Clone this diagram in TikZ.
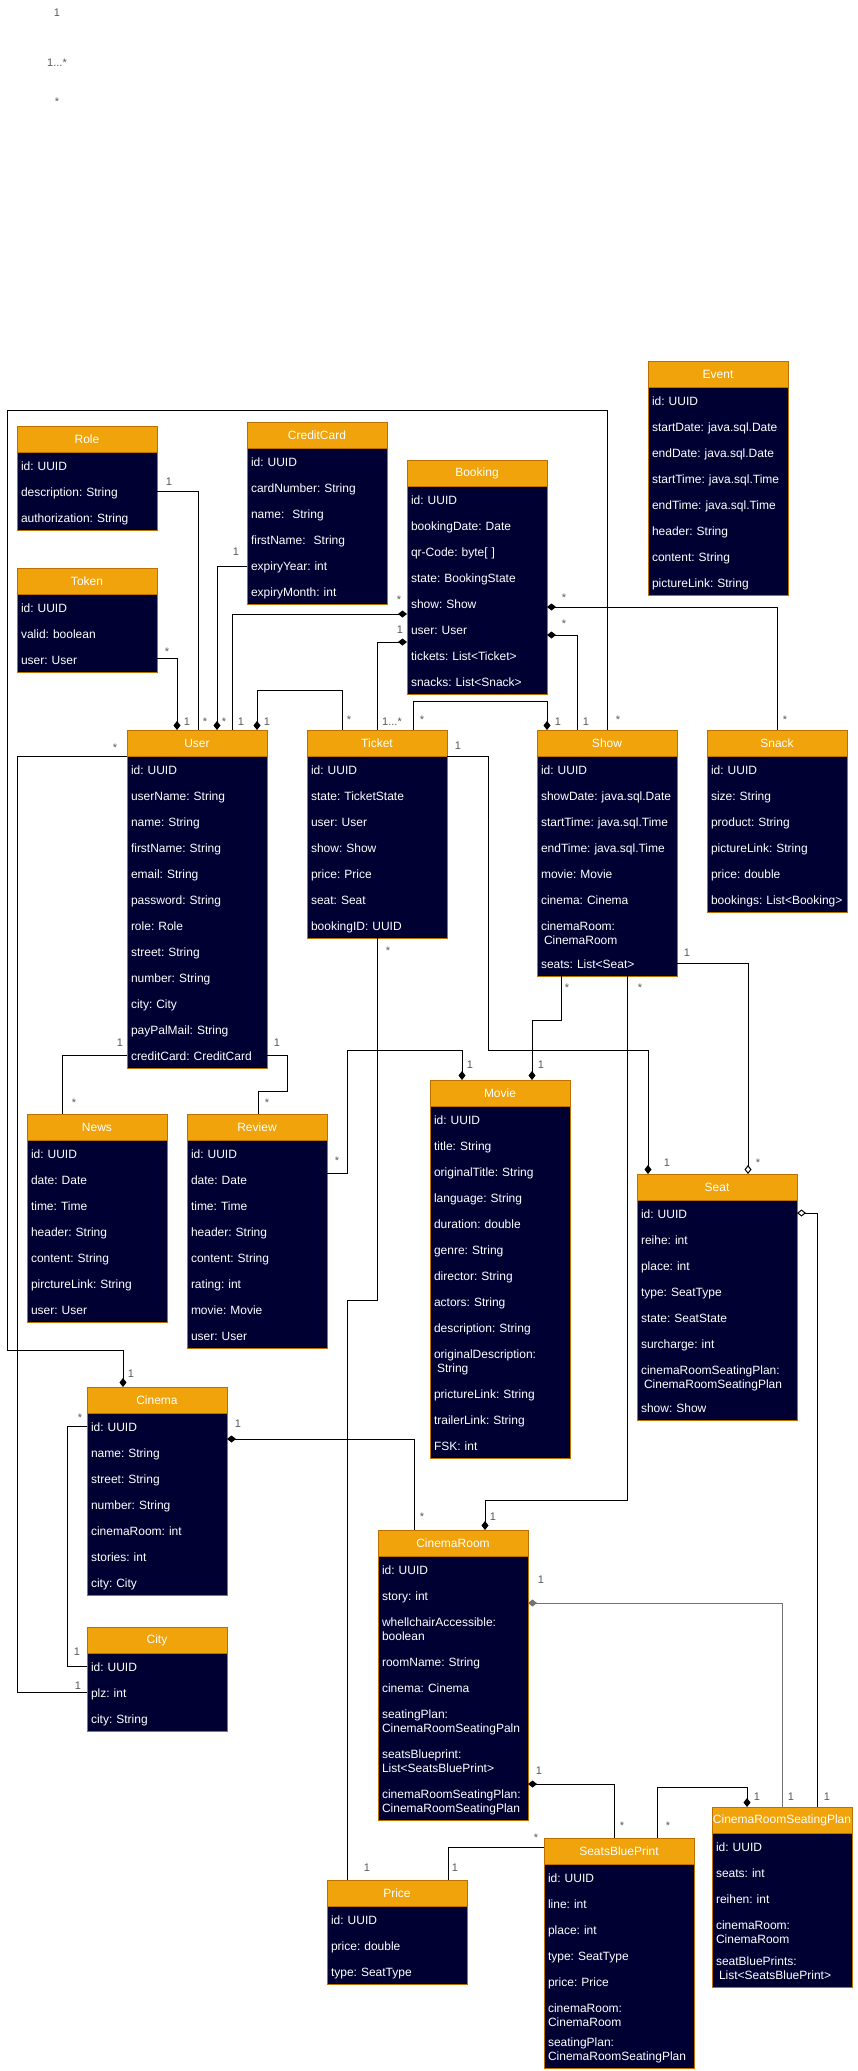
\documentclass[tikz,border=0pt]{standalone}
\usepackage{fontspec}
\setmainfont{Liberation Sans}
\usetikzlibrary{arrows.meta}

\definecolor{headfill}{HTML}{F0A30A}
\definecolor{headline}{HTML}{BD7000}
\definecolor{bodyfill}{HTML}{000033}

\newcommand{\oneton}{1...*}
\newcommand{\umlclass}[6][140]{%
  \pgfmathsetmacro{\bodyw}{#1-8}%
  \node[classhead, minimum width=#1pt] (#2) at (#3,#4) {#5};
  \node[classbody, text width=\bodyw pt] (#2-b) at (#2.south west) {\strut #6\strut};
}

\begin{document}
\begin{tikzpicture}
      [
        x=1pt, y=-1pt,
        classhead/.style={draw=headline, fill=headfill, text=white, anchor=north west,
          minimum height=26pt, inner sep=0pt, outer sep=0pt, font=\fontsize{12}{14}\selectfont},
        classbody/.style={draw=headline, fill=bodyfill, text=white, anchor=north west,
          inner xsep=4pt, inner ysep=0pt, outer sep=0pt, align=left,
          font={\fontsize{12}{26}\selectfont\frenchspacing\hyphenpenalty=10000}},
        mult/.style={text=black!65, font=\fontsize{11}{13}\selectfont, inner sep=0pt},
        link/.style={line width=1pt},
        dia/.tip={Diamond[length=9pt,width=7pt]},
        odia/.tip={Diamond[open,fill=white,length=9pt,width=7pt]}
      ]
      \fill[white] (0,0) rectangle (858,2071);
      \useasboundingbox (0,0) rectangle (858,2071);
      % top row
      \umlclass{role}{17}{426}{Role}{id: UUID\\description: String\\authorization: String}
      \umlclass{creditcard}{247}{422}{CreditCard}{id: UUID\\cardNumber: String\\name:~ String\\firstName:~ String\\expiryYear: int\\expiryMonth: int}
      \umlclass{token}{17}{568}{Token}{id: UUID\\valid: boolean\\user: User}
      \umlclass{booking}{407}{460}{Booking}{id: UUID\\bookingDate: Date\\qr-Code: byte[ ]\\state: BookingState\\show: Show\\user: User\\tickets: List<Ticket>\\snacks: List<Snack>}
      \umlclass{event}{648}{361}{Event}{id: UUID\\startDate: java.sql.Date\\endDate: java.sql.Date\\startTime: java.sql.Time\\endTime: java.sql.Time\\header: String\\content: String\\pictureLink: String}
      % middle row
      \umlclass{user}{127}{730}{User}{id: UUID\\userName: String\\name: String\\firstName: String\\email: String\\password: String\\role: Role\\street: String\\number: String\\city: City\\payPalMail: String\\creditCard: CreditCard}
      \umlclass{ticket}{307}{730}{Ticket}{id: UUID\\state: TicketState\\user: User\\show: Show\\price: Price\\seat: Seat\\bookingID: UUID}
      \umlclass{show}{537}{730}{Show}{id: UUID\\showDate: java.sql.Date\\startTime: java.sql.Time\\endTime: java.sql.Time\\movie: Movie\\cinema: Cinema\\cinemaRoom:\\[-12pt]\hspace*{3pt}CinemaRoom\\[-2pt]seats: List<Seat>}
      \umlclass{snack}{707}{730}{Snack}{id: UUID\\size: String\\product: String\\pictureLink: String\\price: double\\bookings: List<Booking>}
      \umlclass{news}{27}{1114}{News}{id: UUID\\date: Date\\time: Time\\header: String\\content: String\\pirctureLink: String\\user: User}
      \umlclass{review}{187}{1114}{Review}{id: UUID\\date: Date\\time: Time\\header: String\\content: String\\rating: int\\movie: Movie\\user: User}
      \umlclass{movie}{430}{1080}{Movie}{id: UUID\\title: String\\originalTitle: String\\language: String\\duration: double\\genre: String\\director: String\\actors: String\\description: String\\originalDescription:\\[-12pt]\hspace*{3pt}String\\prictureLink: String\\trailerLink: String\\FSK: int}
      \umlclass[160]{seat}{637}{1174}{Seat}{id: UUID\\reihe: int\\place: int\\type: SeatType\\state: SeatState\\surcharge: int\\cinemaRoomSeatingPlan:\\[-12pt]\hspace*{3pt}CinemaRoomSeatingPlan\\[-2pt]show: Show}
      % bottom row
      \umlclass{cinema}{87}{1387}{Cinema}{id: UUID\\name: String\\street: String\\number: String\\cinemaRoom: int\\stories: int\\city: City}
      \umlclass{city}{87}{1627}{City}{id: UUID\\plz: int\\city: String}
      \umlclass[150]{cinemaroom}{378}{1530}{CinemaRoom}{id: UUID\\story: int\\whellchairAccessible:\\[-12pt]boolean\\roomName: String\\cinema: Cinema\\seatingPlan:\\[-12pt]CinemaRoomSeatingPaln\\seatsBlueprint:\\[-12pt]List<SeatsBluePrint>\\cinemaRoomSeatingPlan:\\[-12pt]CinemaRoomSeatingPlan}
      \umlclass[150]{blueprint}{544}{1838}{SeatsBluePrint}{id: UUID\\line: int\\place: int\\type: SeatType\\price: Price\\cinemaRoom:\\[-12pt]CinemaRoom\\[-6pt]seatingPlan:\\[-12pt]CinemaRoomSeatingPlan}
      \umlclass{price}{327}{1880}{Price}{id: UUID\\price: double\\type: SeatType}
      \umlclass{seatingplan}{712}{1807}{CinemaRoomSeatingPlan}{id: UUID\\seats: int\\reihen: int\\cinemaRoom:\\[-12pt]CinemaRoom\\[-4pt]seatBluePrints:\\[-12pt]\hspace*{3pt}List<SeatsBluePrint>}
      % links
      \draw[link] (role-b.east) -| ([xshift=71pt]user.north west);
      \draw[link,-dia] ([yshift=-25pt]token-b.east) -| ([xshift=50pt]user.north west);
      \draw[link,-dia] ([yshift=-40pt]creditcard-b.west) -| ([xshift=90pt]user.north west);
      \draw[link,dia-] ([yshift=-24pt]booking-b.west) -| ([xshift=105pt]user.north west);
      \draw[link,dia-] ([yshift=-52pt]booking-b.west) -| ([xshift=70pt]ticket.north west);
      \draw[link,dia-] ([xshift=130pt]user.north west) -- ++(0,-40) -| ([xshift=35pt]ticket.north west);
      \draw[link,-dia] ([xshift=106pt]ticket.north west) -- ++(0,-29) -| ([xshift=10pt]show.north west);
      \draw[link,dia-] ([yshift=-17pt]booking-b.east) -| ([xshift=70pt]snack.north west);
      \draw[link,dia-] ([yshift=-45pt]booking-b.east) -| ([xshift=40pt]show.north west);
      \draw[link,-dia] ([xshift=70pt]show.north west) -- ++(0,-320) -- ++(-600,0) -- ++(0,940)
        -| ([xshift=36pt]cinema.north west);
      \draw[link] (user-b.north west) -- ++(-110,0) |- (city-b.west);
      \draw[link] ([yshift=-143pt]user-b.west) -| ([xshift=35pt]news.north west);
      \draw[link] ([yshift=-143pt]user-b.east) -- ++(20,0) -- ++(0,36) -| ([xshift=71pt]review.north west);
      \draw[link,-dia] ([yshift=71pt]review-b.east) -- ++(20,0) -- ++(0,-123) -| ([xshift=32pt]movie.north west);
      \draw[link,-dia] ([xshift=24pt]show-b.south west) -- ++(0,44) -| ([xshift=102pt]movie.north west);
      \draw[link,-dia] (ticket-b.north east) -- ++(41,0) -- ++(0,294) -| ([xshift=11pt]seat.north west);
      \draw[link,-odia] ([yshift=13pt]show-b.south east) -| ([xshift=111pt]seat.north west);
      \draw[link,-dia] ([xshift=90pt]show-b.south west) -- ++(0,524) -| ([xshift=107pt]cinemaroom.north west);
      \draw[link] ([yshift=78pt]cinema-b.west) -- ++(-20,0) |- ([yshift=26pt]city-b.west);
      \draw[link,dia-] ([yshift=65pt]cinema-b.east) -| ([xshift=36pt]cinemaroom.north west);
      \draw[link,dia-,black!55] ([yshift=85pt]cinemaroom-b.east) -| ([xshift=70pt]seatingplan.north west);
      \draw[link,dia-] ([yshift=-96pt]cinemaroom-b.east) -| ([xshift=70pt]blueprint.north west);
      \draw[link,-dia] ([xshift=113pt]blueprint.north west) -- ++(0,-51) -| ([xshift=35pt]seatingplan.north west);
      \draw[link] ([xshift=121pt]price.north west) |- ([yshift=4pt]blueprint.west);
      \draw[link] ([xshift=70pt]ticket-b.south west) -- ++(0,362) -| ([xshift=20pt]price.north west);
      \draw[link,odia-] ([yshift=97pt]seat-b.east) -| ([xshift=105pt]seatingplan.north west);
      % multiplicities
      \foreach \x/\y/\t [count=\i] in {57/13/1, 57/63/\oneton, 57/102/*,
          169/482/1, 205/722/*, 167/652/*, 187/722/1, 236/552/1, 224/722/*,
          399/600/*, 241/722/1, 400/630/1, 392/722/\oneton, 267/722/1, 349/720/*,
          422/720/*, 558/722/1, 564/598/*, 785/720/*, 564/624/*, 586/722/1,
          618/720/*, 131/1374/1, 115/748/*, 78/1686/1, 120/1043/1, 74/1103/*,
          277/1043/1, 267/1103/*, 337/1161/*, 470/1065/1, 567/988/*, 541/1065/1,
          458/746/1, 667/1163/1, 687/953/1, 758/1163/*, 640/988/*, 493/1517/1,
          80/1418/*, 77/1652/1, 238/1424/1, 422/1517/*, 541/1580/1, 791/1797/1,
          539/1771/1, 622/1826/*, 668/1826/*, 757/1797/1, 455/1868/1, 536/1838/*,
          388/951/*, 367/1868/1, 827/1797/1} {
          \node[mult] (m\i) at (\x,\y) {\t};
      }
\end{tikzpicture}
\end{document}
